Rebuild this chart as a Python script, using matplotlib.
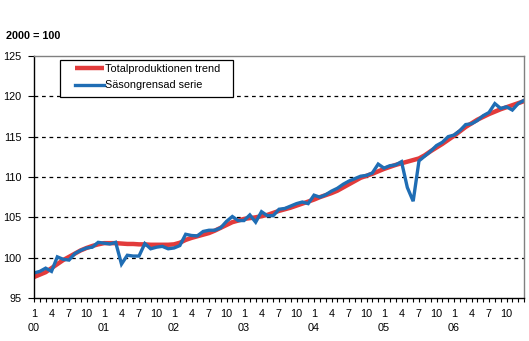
import numpy as np
import matplotlib
matplotlib.use("Agg")
import matplotlib.pyplot as plt
from matplotlib.ticker import FixedLocator
from matplotlib.patches import Rectangle

plt.rcParams['font.family'] = ['Liberation Sans', 'DejaVu Sans']

# monthly index 2000 = 100, Jan 2000 .. Jan 2007
start_year = 2000
trend = [97.6, 97.9, 98.2, 98.7, 99.2, 99.7, 100.1, 100.5, 100.9, 101.2, 101.45, 101.65,
         101.8, 101.8, 101.8, 101.75, 101.7, 101.7, 101.65, 101.65, 101.6, 101.6, 101.6, 101.6,
         101.65, 101.85, 102.2, 102.45, 102.65, 102.85, 103.05, 103.35, 103.7, 104.05, 104.4, 104.6,
         104.8, 104.9, 105.0, 105.15, 105.3, 105.55, 105.8, 106.0, 106.2, 106.45, 106.7, 106.95,
         107.2, 107.5, 107.75, 108.0, 108.3, 108.7, 109.1, 109.5, 109.9, 110.15, 110.4, 110.7,
         111.0, 111.25, 111.5, 111.7, 111.9, 112.1, 112.3, 112.7, 113.2, 113.65, 114.1, 114.6,
         115.1, 115.65, 116.2, 116.65, 117.1, 117.45, 117.8, 118.1, 118.4, 118.65, 118.9, 119.15,
         119.4]
sa_series = [98.1, 98.3, 98.7, 98.3, 100.1, 99.8, 99.7, 100.5, 100.9, 101.2, 101.3, 101.9,
             101.8, 101.7, 101.9, 99.2, 100.3, 100.2, 100.2, 101.75, 101.1, 101.3, 101.4, 101.1,
             101.2, 101.5, 102.9, 102.75, 102.7, 103.25, 103.4, 103.4, 103.7, 104.5, 105.1, 104.6,
             104.6, 105.3, 104.4, 105.7, 105.2, 105.2, 106.0, 106.1, 106.4, 106.7, 106.9, 106.7,
             107.75, 107.5, 107.8, 108.25, 108.6, 109.1, 109.5, 109.8, 110.1, 110.2, 110.5, 111.6,
             111.1, 111.4, 111.5, 111.9, 108.7, 107.0, 112.0, 112.6, 113.2, 113.9, 114.3, 115.0,
             115.2, 115.75, 116.5, 116.6, 117.0, 117.6, 118.0, 119.1, 118.5, 118.7, 118.3, 119.1,
             119.5]
labels = ["Totalproduktionen trend", "Säsongrensad serie"]

red = "#E23B3B"
blue = "#1F6DB4"
fs = 7.8
W, H = 529, 341

x = np.arange(len(trend))

fig = plt.figure(figsize=(W/100, H/100), dpi=100)
ax = fig.add_axes([34/W, 1 - 298/H, 490/W, 242/H])

ax.plot(x, trend, color=red, lw=3.2, label=labels[0], solid_capstyle='butt')
ax.plot(x, sa_series, color=blue, lw=2.4, label=labels[1], solid_joinstyle='miter')

ax.set_xlim(0, len(x) - 1)
ax.set_ylim(95, 125)
ax.set_yticks([95, 100, 105, 110, 115, 120, 125])
for v in [100, 105, 110, 115, 120]:
    ax.axhline(v, color='black', lw=0.9, ls=(0, (3, 3)), zorder=0)

# labels every third month, year under January; last tick left blank like the original
major = [i for i in x if i % 3 == 0]
ticklabels = []
for i in major:
    m = i % 12 + 1
    if i == len(x) - 1:
        ticklabels.append("")
    elif m == 1:
        ticklabels.append("%d\n%02d" % (m, (start_year + i // 12) % 100))
    else:
        ticklabels.append(str(m))
ax.xaxis.set_major_locator(FixedLocator(major))
ax.xaxis.set_minor_locator(FixedLocator(list(x)))
ax.set_xticklabels(ticklabels, fontsize=fs, linespacing=1.5)
ax.tick_params(axis='x', which='both', direction='out', length=3, width=0.8, pad=5.2)
ax.tick_params(axis='y', direction='out', length=4, width=0.8, pad=5, labelsize=fs)

for s in ['left', 'bottom']:
    ax.spines[s].set_color('black')
    ax.spines[s].set_linewidth(1.0)
for s in ['top', 'right']:
    ax.spines[s].set_color('#808080')
    ax.spines[s].set_linewidth(1.0)

# legend box drawn by hand, Excel style
box = Rectangle((60/W, 1 - 96.7/H), 173/W, 36.7/H, transform=fig.transFigure,
                facecolor='white', edgecolor='black', lw=0.9, zorder=4.5, clip_on=False)
ax.add_patch(box)
leg = ax.legend(loc='upper left', bbox_to_anchor=(75/W, 1 - 64.2/H),
                bbox_transform=fig.transFigure, fontsize=fs, frameon=False,
                handlelength=2.7, handletextpad=0.1, labelspacing=0.58,
                borderpad=0, borderaxespad=0)
leg.set_zorder(5)

fig.text(6/W, 1 - 36/H, "2000 = 100", fontsize=fs, fontweight='bold', va='center', ha='left')

fig.savefig("out.png", dpi=100)
